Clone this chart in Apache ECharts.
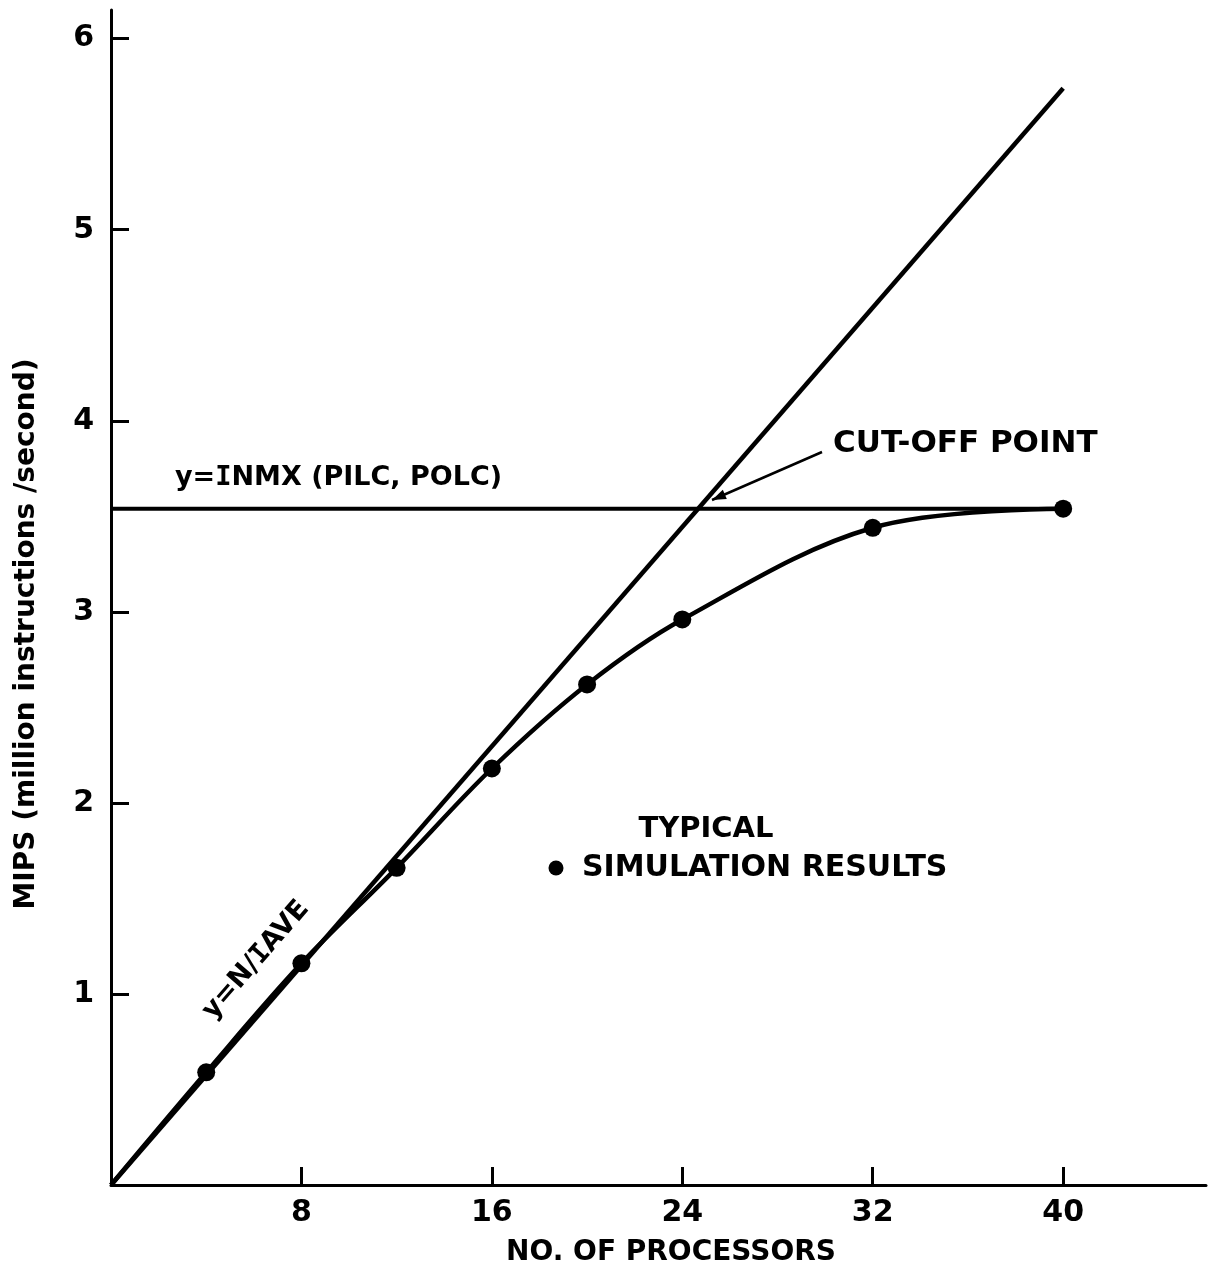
<!DOCTYPE html>
<html>
<head>
<meta charset="utf-8">
<title>MIPS vs number of processors</title>
<script src="https://cdn.jsdelivr.net/npm/echarts@6/dist/echarts.min.js"></script>
<style>
  html, body { margin: 0; padding: 0; background: #fff; }
  #chart { width: 1220px; height: 1276px; }
</style>
</head>
<body>
<div id="chart"></div>
<script>
// Simulation results: MIPS measured for each processor count
const processors    = [4, 8, 12, 16, 20, 24, 32, 40];
const simulatedMips = [0.59, 1.16, 1.66, 2.18, 2.62, 2.96, 3.44, 3.54];

// Linear bound y = N/IAVE
const idealX = [0, 40];
const idealY = [0, 5.74];

// Ceiling y = INMX(PILC, POLC)
const ceilingX = [0, 40];
const ceilingY = [3.54, 3.54];

// Axis ticks
const xTicks = [8, 16, 24, 32, 40];
const yTicks = [1, 2, 3, 4, 5, 6];
const xRange = [0, 46];
const yRange = [0, 6.15];

const FONT = '"DejaVu Sans", "Liberation Sans", sans-serif';
const INK = '#000';

const pairs = (xs, ys) => xs.map((x, i) => [x, ys[i]]);
const simPoints = pairs(processors, simulatedMips);
const curvePoints = [[0, 0]].concat(simPoints);

const chart = echarts.init(document.getElementById('chart'), null, { renderer: 'canvas' });

// Arrow for the cut-off annotation
const arrowFrom = [822, 452];
const arrowTip = [712, 500];
function arrowHead(from, tip, len, half) {
  const dx = tip[0] - from[0], dy = tip[1] - from[1];
  const d = Math.hypot(dx, dy);
  const ux = dx / d, uy = dy / d;
  const bx = tip[0] - ux * len, by = tip[1] - uy * len;
  return [tip, [bx - uy * half, by + ux * half], [bx + uy * half, by - ux * half]];
}

const textStyleBase = {
  fill: INK,
  fontFamily: FONT,
  fontWeight: 'bold'
};
const serifI = { fontFamily: '"DejaVu Sans Mono", monospace', fontWeight: 'bold', fill: INK };

const option = {
  backgroundColor: '#fff',
  animation: false,
  grid: { left: 111, right: 14, top: 10, bottom: 91 },
  xAxis: {
    type: 'value',
    min: xRange[0],
    max: xRange[1],
    interval: 8,
    splitLine: { show: false },
    axisLine: { show: true, onZero: false, lineStyle: { color: INK, width: 3 } },
    axisTick: { show: true, inside: true, length: 18, lineStyle: { color: INK, width: 3 }, customValues: xTicks },
    axisLabel: {
      customValues: xTicks,
      color: INK, fontFamily: FONT, fontWeight: 'bold', fontSize: 30, margin: 13,
      formatter: v => (xTicks.indexOf(v) >= 0 ? String(v) : '')
    }
  },
  yAxis: {
    type: 'value',
    min: yRange[0],
    max: yRange[1],
    interval: 1,
    splitLine: { show: false },
    axisLine: { show: true, onZero: false, lineStyle: { color: INK, width: 3 } },
    axisTick: { show: true, inside: true, length: 18, lineStyle: { color: INK, width: 3 }, customValues: yTicks },
    axisLabel: {
      customValues: yTicks,
      color: INK, fontFamily: FONT, fontWeight: 'bold', fontSize: 30, margin: 17,
      formatter: v => (yTicks.indexOf(v) >= 0 ? String(v) : '')
    }
  },
  series: [
    {
      name: 'y=N/IAVE',
      type: 'line',
      data: pairs(idealX, idealY),
      showSymbol: false,
      lineStyle: { color: INK, width: 4.5 },
      z: 2
    },
    {
      name: 'y=INMX (PILC, POLC)',
      type: 'line',
      data: pairs(ceilingX, ceilingY),
      showSymbol: false,
      lineStyle: { color: INK, width: 4 },
      z: 2
    },
    {
      name: 'curve',
      type: 'line',
      data: curvePoints,
      smooth: 0.35,
      showSymbol: false,
      lineStyle: { color: INK, width: 4.5 },
      z: 3
    },
    {
      name: 'SIMULATION RESULTS',
      type: 'scatter',
      data: simPoints,
      symbol: 'circle',
      symbolSize: 18,
      itemStyle: { color: INK, opacity: 1 },
      z: 4
    }
  ],
  graphic: [
    // y-axis title
    {
      type: 'text', x: 27, y: 634, rotation: Math.PI / 2,
      style: Object.assign({}, textStyleBase, {
        text: 'MIPS (million instructions /second)',
        fontSize: 28,
        align: 'center', verticalAlign: 'middle'
      })
    },
    // x-axis title
    {
      type: 'text', x: 671, y: 1253,
      style: Object.assign({}, textStyleBase, {
        text: 'NO. OF PROCESSORS', fontSize: 28,
        align: 'center', verticalAlign: 'middle'
      })
    },
    // ceiling label
    {
      type: 'text', x: 175, y: 478,
      style: Object.assign({}, textStyleBase, {
        text: 'y={i|I}NMX (PILC, POLC)', fontSize: 27,
        align: 'left', verticalAlign: 'middle',
        rich: { i: Object.assign({ fontSize: 27 }, serifI) }
      })
    },
    // linear bound label, along the line
    {
      type: 'text', x: 256, y: 960, rotation: 49 * Math.PI / 180,
      style: Object.assign({}, textStyleBase, {
        text: 'y=N/{i|I}AVE', fontSize: 27,
        align: 'center', verticalAlign: 'middle',
        rich: { i: Object.assign({ fontSize: 27 }, serifI) }
      })
    },
    // cut-off annotation
    {
      type: 'text', x: 833, y: 444,
      style: Object.assign({}, textStyleBase, {
        text: 'CUT-OFF POINT', fontSize: 31,
        align: 'left', verticalAlign: 'middle'
      })
    },
    {
      type: 'line',
      shape: { x1: arrowFrom[0], y1: arrowFrom[1], x2: arrowTip[0], y2: arrowTip[1] },
      style: { stroke: INK, lineWidth: 2.5 }
    },
    {
      type: 'polygon',
      shape: { points: arrowHead(arrowFrom, arrowTip, 14, 5) },
      style: { fill: INK }
    },
    // key for simulation points
    {
      type: 'text', x: 706, y: 829,
      style: Object.assign({}, textStyleBase, {
        text: 'TYPICAL', fontSize: 29,
        align: 'center', verticalAlign: 'middle'
      })
    },
    {
      type: 'circle',
      shape: { cx: 556, cy: 868, r: 7.5 },
      style: { fill: INK }
    },
    {
      type: 'text', x: 582, y: 868,
      style: Object.assign({}, textStyleBase, {
        text: 'SIMULATION RESULTS', fontSize: 30,
        align: 'left', verticalAlign: 'middle'
      })
    }
  ]
};

chart.setOption(option);
</script>
</body>
</html>
